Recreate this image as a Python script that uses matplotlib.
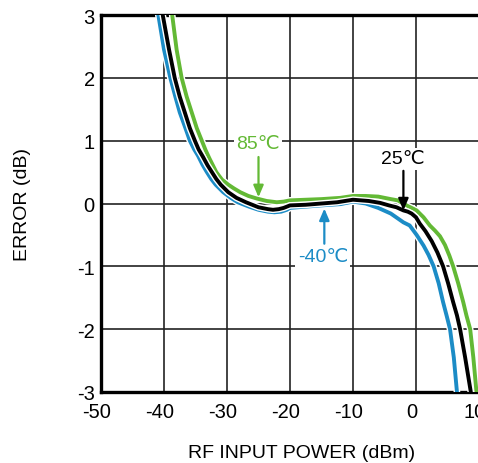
import matplotlib
matplotlib.use("Agg")
import matplotlib.pyplot as plt
import matplotlib.patheffects as pe
from matplotlib.transforms import ScaledTranslation

plt.rcParams['font.family'] = ['Liberation Sans', 'DejaVu Sans']
plt.rcParams['axes.unicode_minus'] = False

# curves: RF input power (dBm) vs error (dB)
x_m40 = [-40.9, -40.0, -39.0, -38.2, -37.5, -36.6, -35.9, -35.2, -34.6, -33.9, -33.2,
         -32.5, -31.8, -30.6, -29.4, -28.3, -26.5, -25.0, -23.5, -22.5, -21.4, -20.5,
         -20.0, -17.5, -15.0, -12.0, -10.0, -8.0, -6.0, -4.0, -2.0, -1.0, 0.1, 1.2,
         2.0, 2.8, 3.6, 4.3, 4.9, 5.4, 6.0, 6.5]
y_m40 = [3.0, 2.45, 2.0, 1.7, 1.45, 1.2, 1.0, 0.86, 0.76, 0.62, 0.5,
         0.39, 0.3, 0.18, 0.09, 0.02, -0.05, -0.1, -0.13, -0.14, -0.13, -0.1,
         -0.07, -0.05, -0.03, -0.01, 0.03, 0.0, -0.07, -0.16, -0.3, -0.35, -0.5, -0.67,
         -0.82, -1.0, -1.27, -1.57, -1.8, -2.0, -2.45, -3.0]

x_25 = [-40.2, -39.2, -38.3, -37.5, -36.7, -35.9, -35.1, -34.5, -33.8, -33.1, -32.4,
        -31.7, -31.0, -29.8, -28.5, -27.0, -25.0, -23.5, -22.7, -21.8, -21.0, -20.0,
        -17.5, -15.0, -12.5, -10.0, -7.5, -5.7, -4.3, -3.1, -2.0, -1.3, -0.7, 0.0,
        0.6, 1.5, 2.5, 3.4, 4.3, 5.1, 5.9, 6.5, 7.0, 7.8, 8.7]
y_25 = [3.0, 2.45, 2.0, 1.7, 1.45, 1.2, 1.0, 0.86, 0.74, 0.61, 0.5,
        0.39, 0.3, 0.18, 0.09, 0.02, -0.06, -0.09, -0.1, -0.09, -0.07, -0.03,
        -0.02, 0.0, 0.02, 0.06, 0.04, 0.01, -0.03, -0.06, -0.11, -0.13, -0.16, -0.22,
        -0.32, -0.44, -0.6, -0.78, -1.0, -1.27, -1.57, -1.78, -2.0, -2.45, -3.0]

x_85 = [-38.7, -38.0, -37.2, -36.4, -35.6, -34.8, -34.0, -33.4, -32.8, -32.2, -31.7,
        -30.8, -29.8, -28.9, -27.9, -26.6, -25.3, -23.7, -22.1, -21.0, -20.0,
        -17.5, -15.0, -12.0, -10.0, -8.0, -6.0, -4.0, -2.9, -2.2, -1.5, -0.7, 0.1,
        1.2, 2.2, 3.0, 3.8, 4.6, 5.3, 5.9, 6.7, 7.5, 8.0, 8.6, 9.1, 9.6]
y_85 = [3.0, 2.45, 2.0, 1.7, 1.45, 1.2, 1.0, 0.85, 0.72, 0.6, 0.5,
        0.38, 0.3, 0.24, 0.18, 0.12, 0.08, 0.04, 0.02, 0.03, 0.05,
        0.06, 0.07, 0.09, 0.12, 0.12, 0.11, 0.07, 0.05, 0.01, -0.03, -0.07, -0.11,
        -0.22, -0.35, -0.43, -0.52, -0.66, -0.83, -1.0, -1.27, -1.57, -1.78, -2.0, -2.45, -3.0]

xticks = [-50, -40, -30, -20, -10, 0, 10]
yticks = [-3, -2, -1, 0, 1, 2, 3]

green = '#63b935'
blue = '#1c8cc6'

fig = plt.figure(figsize=(4.78, 4.64), dpi=100)
ax = fig.add_axes([101 / 478, 71 / 464, 378 / 478, 377 / 464])

outline = [pe.Stroke(linewidth=4.8, foreground='white'), pe.Normal()]
ax.plot(x_85, y_85, color=green, lw=2.8, path_effects=outline, zorder=3)
ax.plot(x_25, y_25, color='black', lw=2.8, path_effects=outline, zorder=4)
ax.plot(x_m40, y_m40, color=blue, lw=2.8, path_effects=outline, zorder=3)

ax.set_xlim(-50, 10)
ax.set_ylim(-3, 3)
ax.set_xticks(xticks)
ax.set_yticks(yticks)
ax.grid(True, color='#222222', lw=1.2)
ax.set_axisbelow(True)
ax.tick_params(length=0, labelsize=14.5, colors='black')
ax.tick_params(axis='y', pad=4.5)
ax.tick_params(axis='x', pad=7)
for lbl in ax.get_xticklabels():
    lbl.set_transform(lbl.get_transform() + ScaledTranslation(-0.04, 0, fig.dpi_scale_trans))

for side in ['left', 'bottom', 'top']:
    ax.spines[side].set_linewidth(2.4)
ax.spines['right'].set_visible(False)

ax.set_xlabel('RF INPUT POWER (dBm)', fontsize=14)
ax.xaxis.set_label_coords(0.53, -0.137)
ax.set_ylabel('ERROR (dB)', fontsize=14)
ax.yaxis.set_label_coords(-0.185, 0.5)

box = dict(facecolor='white', edgecolor='none', pad=1.5)
ax.text(-25.1, 0.96, '85℃', color=green, fontsize=14, ha='center', va='center', bbox=box, zorder=5)
ax.text(-2.1, 0.71, '25℃', color='black', fontsize=14, ha='center', va='center', bbox=box, zorder=5)
ax.text(-14.8, -0.84, '-40℃', color=blue, fontsize=14, ha='center', va='center', bbox=box, zorder=5)

arr = '-|>,head_length=0.7,head_width=0.3'
ax.annotate('', xy=(-25.0, 0.10), xytext=(-25.0, 0.74),
            arrowprops=dict(arrowstyle=arr, color=green, lw=1.6, shrinkA=0, shrinkB=0), zorder=5)
ax.annotate('', xy=(-2.0, -0.11), xytext=(-2.0, 0.52),
            arrowprops=dict(arrowstyle=arr, color='black', lw=1.6, shrinkA=0, shrinkB=0), zorder=5)
ax.annotate('', xy=(-14.55, -0.08), xytext=(-14.55, -0.64),
            arrowprops=dict(arrowstyle=arr, color=blue, lw=1.6, shrinkA=0, shrinkB=0), zorder=5)

fig.savefig('out.png', dpi=100)
